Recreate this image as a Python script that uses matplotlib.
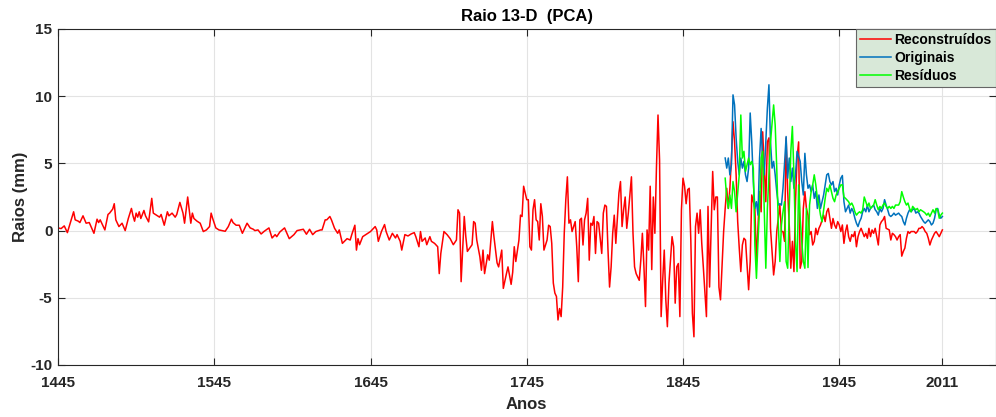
import matplotlib
matplotlib.use("Agg")
import matplotlib.pyplot as plt

plt.rcParams['font.family'] = ['Liberation Sans', 'DejaVu Sans']
plt.rcParams['font.weight'] = 'bold'
plt.rcParams['axes.unicode_minus'] = False

# reconstructed series (red), 1445-2011
rec_years = [
    1445,1447,1449,1451,1455,1456,1458,1459,1461,1463,
    1465,1468,1470,1471,1472,1475,1477,1478,1480,1481,
    1482,1484,1486,1488,1490,1492,1493,1494,1495,1496,
    1497,1498,1500,1501,1503,1505,1506,1508,1510,1511,
    1513,1515,1516,1518,1520,1521,1523,1524,1525,1526,
    1528,1529,1530,1531,1532,1534,1536,1538,1540,1542,
    1543,1544,1546,1548,1550,1552,1554,1556,1557,1559,
    1561,1563,1566,1568,1570,1571,1573,1575,1577,1580,
    1582,1584,1585,1587,1590,1593,1596,1598,
    1600,1602,1604,1606,1608,1610,1613,1614,1616,1617,
    1619,1620,1622,1624,1625,1627,1630,1632,1633,1635,
    1636,1637,1638,1640,1642,1645,1647,1648,1649,1650,
    1652,1654,1655,1657,1659,1661,1662,1664,1665,1667,
    1669,1671,1673,1674,1676,1677,1678,1680,1681,1683,
    1684,1686,1688,1689,1690,1692,1694,1696,1698,1700,
    1701,1702,1703,1705,1706,1707,1710,1711,1712,1713,
    1715,1716,1717,1718,1720,1721,1723,1724,1726,1727,
    1729,1730,1732,1733,1735,1736,1737,1738,1740,1741,
    1742,1743,
    1745,1746,1747,1748,1749,1750,1751,1752,1753,1754,
    1755,1756,1758,1759,1760,1761,1762,1763,1764,1765,
    1766,1767,1768,1769,1770,1771,1772,1773,1774,1776,
    1777,1778,1779,1780,1781,1782,1783,1784,1785,1786,
    1787,1788,1789,1790,1791,1793,1794,1795,1796,1797,
    1798,1799,1800,1801,1802,1804,1805,1806,1807,1808,
    1809,1810,1812,1813,1814,1815,1816,
    1817,1818,1819,1820,1821,1822,1823,1824,1825,1826,
    1827,1828,1829,1830,1831,1832,1833,1834,1835,1836,
    1838,1839,1840,1841,1842,1843,1844,1845,1846,1847,
    1848,1849,1850,1851,1852,1853,1854,1855,1856,1857,
    1858,1860,1861,1862,1864,1865,1866,1867,1868,1869,
    1871,1872,1873,1874,1875,1876,1877,1878,1879,1880,
    1881,1882,1883,1884,1885,1887,1888,1889,1890,1891,
    1892,1894,1895,1896,1897,1898,1899,1900,1901,1903,
    1904,1905,1906,1907,1908,1909,1910,1911,1912,
    1913,1914,1915,1916,1917,1918,1919,1920,1921,1922,
    1923,1924,1925,1926,1927,1928,1929,1930,1931,1932,
    1933,1935,1936,1937,1938,1939,1940,1941,1942,1943,
    1944,1945,1946,1947,
    1948,1949,1950,1951,1952,1953,1954,1955,1956,1957,
    1958,1959,1961,1962,1963,1964,1965,1966,1967,1968,
    1969,1970,1971,1972,1973,1974,1975,1977,1978,1979,
    1980,1981,1982,1983,1984,1985,1986,1987,1988,1989,
    1990,1991,1993,1994,1995,1996,1997,1998,1999,2000,
    2001,2002,2003,2004,2005,2006,2007,2009,2010,2011]
rec_vals = [
    0.2,0.15,0.35,-0.15,1.4,0.8,0.7,0.6,1.1,0.55,
    0.6,-0.2,0.85,0.6,0.8,0.05,1.2,1.3,1.6,2.0,
    0.8,0.3,0.55,0.0,0.9,1.65,1.1,0.7,1.3,1.0,
    1.4,0.9,1.5,1.1,0.65,2.4,1.3,1.15,1.0,1.2,
    0.4,1.4,1.1,1.3,1.0,1.2,2.1,1.7,1.3,0.55,
    2.5,1.5,0.55,1.3,0.9,0.7,0.55,-0.07,0.05,0.3,
    1.3,0.9,0.2,0.05,0.0,-0.05,0.3,0.85,0.6,0.4,
    0.4,-0.2,0.55,0.2,0.1,0.0,0.05,-0.25,-0.05,0.2,
    -0.55,-0.3,-0.45,-0.1,0.2,-0.6,-0.3,0.0,
    0.05,0.1,-0.27,0.1,-0.3,-0.07,0.05,0.05,0.8,0.8,
    1.05,0.8,0.17,-0.2,0.05,-0.95,-0.6,-0.7,-0.3,0.4,
    -1.45,-0.6,-1.05,-0.45,-0.3,-0.07,0.17,0.3,0.05,-0.8,
    -0.07,0.45,-0.07,-0.7,-0.2,-0.55,-0.3,-0.8,-1.45,-0.3,
    -0.4,-0.25,-0.15,-0.45,-1.2,-0.07,-0.8,-0.55,-1.05,-0.45,
    -0.8,-0.95,-1.2,-3.2,-1.7,-0.07,-0.3,-0.6,-1.05,-0.7,
    1.55,1.3,-3.8,1.05,-0.45,-1.55,-1.05,0.67,0.55,-0.7,
    -1.95,-2.95,-1.45,-3.2,-1.8,-2.2,0.67,-0.45,-2.4,-2.7,
    -1.45,-4.3,-3.2,-2.7,-4.0,-3.1,-1.2,-2.3,-0.7,1.15,
    1.05,3.3,
    2.3,2.3,-1.2,-1.45,1.55,2.3,0.8,0.67,-0.7,2.0,
    1.05,-1.45,-0.7,0.4,0.3,-0.95,-3.9,-4.65,-4.9,-6.65,
    -5.8,-6.4,-4.2,-0.2,2.3,4.0,0.55,0.8,-0.07,0.67,
    -1.2,-3.8,0.8,0.92,-1.07,0.8,1.3,2.4,-2.2,0.55,
    0.4,1.05,-1.7,0.67,0.55,-1.7,1.3,1.9,1.8,-1.45,
    -4.2,-2.7,-0.2,1.15,-0.95,2.8,3.65,0.3,1.55,2.5,
    0.17,1.3,4.0,-0.2,-2.7,-3.2,-3.45,
    -3.7,-2.2,-0.2,-2.7,-5.65,0.05,-1.45,3.3,-2.9,2.5,
    -0.2,4.65,8.6,5.25,-6.4,-3.7,-1.45,-5.15,-7.15,-3.9,
    -0.45,-1.2,-5.4,-2.7,-2.45,-6.4,1.55,3.9,3.3,2.0,
    3.05,3.15,-0.7,-6.15,-7.9,0.3,1.3,-0.2,1.55,-0.95,
    -2.7,-6.4,1.8,-4.2,4.4,1.55,2.5,2.5,-4.2,-5.15,
    -0.07,1.65,3.15,1.65,3.15,5.4,8.1,6.6,4.15,0.67,
    -1.3,-3.05,-1.07,-0.57,-0.7,-4.4,-2.3,2.65,2.15,1.65,
    -2.3,2.9,1.4,7.35,4.65,2.15,6.6,6.9,0.17,-3.3,
    -2.3,-0.07,0.9,1.9,-0.07,-0.07,-0.8,6.9,2.9,
    0.42,-2.8,-0.8,-3.05,2.15,5.4,6.6,-2.8,-2.3,1.65,
    2.9,1.65,1.15,-0.3,-0.07,-1.07,-0.8,0.17,-0.3,0.17,
    0.42,1.15,0.67,1.4,1.65,0.9,0.17,0.9,0.42,0.17,
    0.67,0.42,-0.07,0.42,
    -0.95,-0.07,0.42,-0.45,-0.8,-0.3,-0.45,-0.07,-1.2,-0.45,
    -0.07,0.17,-0.45,-0.2,-0.57,0.17,-0.45,0.05,-0.2,0.17,
    -0.45,-1.07,0.42,0.67,0.8,1.05,0.17,0.05,-0.7,-0.2,
    -0.3,-0.45,-0.7,-0.45,-0.3,-1.9,-1.55,-1.3,-0.57,-0.07,
    -0.2,-0.07,-0.07,-0.2,-0.07,0.17,0.17,0.3,0.17,-0.07,
    -0.2,-0.57,-1.07,-0.7,-0.45,-0.2,-0.07,-0.45,-0.2,0.05]

# original series (blue)
orig_years = [
    1872,1873,1874,1875,1876,1877,1878,1879,1880,1881,
    1882,1883,1884,1885,1886,1887,1888,1889,1890,1891,
    1892,1893,1894,1895,1896,1897,1898,1899,1900,1901,
    1902,1903,1904,1905,1906,1907,1908,1909,1910,1911,
    1912,1913,1914,1915,1916,1917,1918,1920,1921,1922,
    1923,1924,1925,1926,1927,1928,1929,1930,1931,1932,
    1933,1935,1936,1937,1938,1939,1940,1941,1942,1943,
    1944,1945,1946,1947,1948,1949,1951,1952,1953,1954,
    1955,1956,1957,1958,1959,1960,1961,1962,1963,1964,
    1965,1967,1968,1969,1970,1971,1972,1973,1974,1975,
    1976,1977,1978,1979,1980,1981,1983,1984,1985,1986,
    1987,1988,1989,1990,1991,1992,1993,1994,1995,1996,
    1997,1999,2000,2001,2002,2003,2004,2005,2006,2007,
    2008,2009,2010,2011]
orig_vals = [
    5.4,4.65,5.4,4.15,4.9,10.1,9.35,6.9,5.15,4.15,
    5.4,4.65,5.15,4.15,3.65,4.65,8.75,6.6,3.65,1.65,
    2.15,1.15,5.4,7.6,5.4,4.15,6.6,9.1,10.85,6.6,
    4.65,5.15,4.15,2.9,1.9,2.0,1.9,3.15,5.0,7.0,
    3.9,5.4,3.65,4.65,3.15,4.15,5.9,5.15,3.65,2.65,
    5.75,4.15,3.15,3.4,2.9,3.4,2.4,2.9,1.65,2.65,
    1.65,2.65,3.4,4.15,4.25,3.65,3.4,3.65,2.9,3.15,
    2.65,3.4,3.9,4.1,2.15,1.4,1.9,1.3,1.65,1.4,
    0.92,0.55,0.3,0.67,0.92,1.4,1.65,1.4,1.9,1.4,
    1.65,1.9,1.55,1.4,1.15,1.65,1.4,1.65,2.3,1.9,
    1.55,1.15,1.05,1.15,1.3,1.15,1.3,1.15,1.05,0.67,
    0.42,0.92,1.3,1.55,1.4,1.55,1.65,1.3,1.4,1.3,
    1.05,0.67,0.55,0.67,0.8,0.67,0.42,0.55,0.92,1.55,
    1.65,1.15,0.92,1.05]

# residual series (green)
res_years = [
    1872,1873,1874,1875,1876,1877,1878,1879,1881,1882,
    1883,1884,1885,1887,1888,1889,1890,1891,1892,1893,
    1894,1895,1896,1897,1898,1899,1900,1901,1903,1904,
    1905,1906,1907,1908,1909,1910,1911,1912,1913,1914,
    1915,1916,1917,1918,1919,1920,1921,1922,1923,1924,
    1925,1926,1927,1928,1929,1930,1931,1932,1933,1934,
    1936,1937,1938,1939,1940,1941,1942,1943,1944,1945,
    1946,1947,1948,1949,1951,1952,1953,1954,1955,1956,
    1957,1958,1959,1960,1961,1962,1963,1964,1965,1967,
    1968,1969,1970,1971,1972,1973,1974,1975,1976,1977,
    1978,1979,1980,1981,1983,1984,1985,1986,1987,1988,
    1989,1990,1991,1992,1993,1994,1995,1996,1997,1999,
    2000,2001,2002,2003,2004,2005,2006,2007,2008,2009,
    2010,2011]
res_vals = [
    3.9,2.4,1.65,2.65,1.65,3.65,2.9,1.4,4.15,8.6,
    5.4,5.9,4.4,5.4,4.9,5.15,4.65,-1.07,-3.55,-0.8,
    1.65,5.4,5.9,1.65,-2.8,1.65,4.15,6.6,9.35,7.85,
    4.65,0.42,-2.3,0.42,1.4,2.15,-2.3,-2.8,1.65,5.9,
    7.75,4.15,-0.8,-3.05,3.4,0.9,-0.8,-2.3,-2.8,1.65,
    -2.75,1.9,2.9,3.4,4.15,3.4,2.4,1.9,1.15,0.65,
    2.4,3.15,2.9,3.4,2.9,2.4,2.15,2.65,2.9,3.15,
    3.4,3.4,2.5,2.4,2.15,1.9,2.05,1.8,1.4,1.15,
    1.3,1.4,1.3,1.55,2.5,2.15,1.8,2.05,1.65,1.9,
    2.3,1.9,1.55,1.8,1.65,1.9,2.05,1.8,1.65,1.8,
    1.65,1.8,1.65,1.9,1.9,2.15,2.9,2.5,2.15,1.9,
    2.05,1.65,1.4,1.8,1.65,1.55,1.65,1.4,1.55,1.4,
    1.3,1.15,1.3,1.05,1.3,1.55,1.3,1.65,1.55,0.92,
    1.15,1.3]

xticks = [1445, 1545, 1645, 1745, 1845, 1945, 2011]
yticks = [-10, -5, 0, 5, 10, 15]

dark = '#262626'

fig = plt.figure(figsize=(9.96, 4.17), dpi=100)
ax = fig.add_axes([58/996, 1 - 365/417, (995.5 - 58)/996, (365 - 29)/417])

ax.plot(rec_years, rec_vals, color='#ff0000', linewidth=1.1, label='Reconstruídos')
ax.plot(orig_years, orig_vals, color='#0072bd', linewidth=1.1, label='Originais')
ax.plot(res_years, res_vals, color='#00ff00', linewidth=1.1, label='Resíduos')

ax.set_xlim(1445, 2045)
ax.set_ylim(-10, 15)
ax.set_xticks(xticks)
ax.set_yticks(yticks)
ax.grid(True, color='#e3e3e3', linewidth=0.8)
ax.set_axisbelow(True)

for s in ax.spines.values():
    s.set_color(dark)
    s.set_linewidth(0.8)
ax.tick_params(direction='in', length=5, width=0.8, top=True, right=True,
               colors=dark, labelsize=11)
ax.tick_params(axis='x', pad=8)
ax.tick_params(axis='y', pad=4)

ax.set_title('Raio 13-D  (PCA)', fontsize=12, fontweight='bold', color='black', pad=6)
ax.set_xlabel('Anos', fontsize=12, fontweight='bold', color=dark, labelpad=5)
ax.set_ylabel('Raios (mm)', fontsize=12, fontweight='bold', color=dark, labelpad=2)

leg = ax.legend(loc='upper right', bbox_to_anchor=(1, 1), borderaxespad=0,
                fancybox=False, framealpha=1, facecolor='#d8e8d8', edgecolor='#666666',
                prop={'weight': 'bold', 'size': 10}, handlelength=2.2,
                handletextpad=0.25, labelspacing=0.28, borderpad=0.28)
leg.get_frame().set_linewidth(0.8)

fig.savefig('out.png', dpi=100)
